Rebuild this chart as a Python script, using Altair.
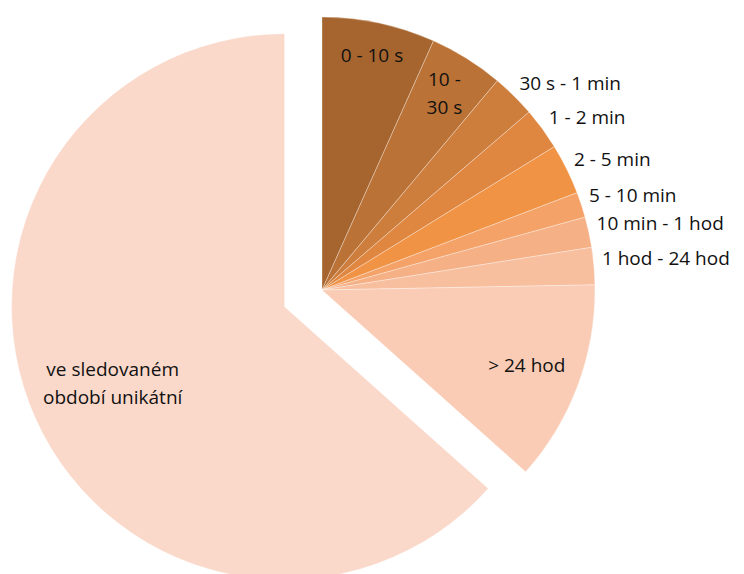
import math

import altair as alt
import pandas as pd

# Share of items by time until repetition (percent of all items)
categories = [
    "0 - 10 s", "10 - 30 s", "30 s - 1 min", "1 - 2 min", "2 - 5 min",
    "5 - 10 min", "10 min - 1 hod", "1 hod - 24 hod", "> 24 hod",
    "ve sledovaném období unikátní",
]
shares = [6.7, 4.4, 2.6, 2.5, 3.0, 1.5, 1.8, 2.2, 11.9, 63.4]
labels = [
    "0 - 10 s", "10 -\n30 s", "30 s - 1 min", "1 - 2 min", "2 - 5 min",
    "5 - 10 min", "10 min - 1 hod", "1 hod - 24 hod", "> 24 hod",
    "ve sledovaném\nobdobí unikátní",
]
palette = [
    "#A6652F", "#BA7236", "#CD7E3C", "#DF8641", "#F09345",
    "#F4A267", "#F6B086", "#F8BF9F", "#FACCB5", "#FAD9CB",
]

# Label groups: inside the slice, outside the rim, and the exploded slice
inside_single = ["0 - 10 s"]
inside_double = ["10 - 30 s"]
inside_far = ["> 24 hod"]
outside = ["30 s - 1 min", "1 - 2 min", "2 - 5 min", "5 - 10 min",
           "10 min - 1 hod", "1 hod - 24 hod"]
big = categories[-1]

total = sum(shares)
ends, acc = [], 0.0
for s in shares:
    acc += s / total
    ends.append(acc)
starts = [0.0] + ends[:-1]
mids = [(a + b) / 2 for a, b in zip(starts, ends)]

df = pd.DataFrame({
    "category": categories,
    "label": labels,
    "share": shares,
    "start": starts,
    "end": ends,
    "mid": mids,
})

W, H = 744, 574
CX, CY, R = 322, 290, 273
EXPLODE = 41
LINE_H = 28

big_mid = mids[categories.index(big)] * 2 * math.pi
EX_X = CX + EXPLODE * math.sin(big_mid)
EX_Y = CY - EXPLODE * math.cos(big_mid)

theta_scale = alt.Scale(domain=[0, 1], range=[0, 2 * math.pi])
color = alt.Color(
    "category:N",
    scale=alt.Scale(domain=categories, range=palette),
    legend=None,
)

base = alt.Chart(df)

slices = base.mark_arc(
    outerRadius=R, stroke="#FFFFFF", strokeWidth=0.7, strokeOpacity=0.45
).encode(
    theta=alt.Theta("start:Q", scale=theta_scale, stack=False),
    theta2="end:Q",
    color=color,
)

rim_slices = slices.transform_filter(alt.datum.category != big).encode(
    x=alt.value(CX), y=alt.value(CY)
)
big_slice = slices.transform_filter(alt.datum.category == big).encode(
    x=alt.value(EX_X), y=alt.value(EX_Y)
)

FONT = dict(font="Open Sans", fontSize=19, color="#111111",
            lineBreak="\n", lineHeight=LINE_H)


def label_layer(names, radius, cx, cy, **mark_kw):
    return base.transform_filter(
        alt.FieldOneOfPredicate(field="category", oneOf=names)
    ).mark_text(**FONT, **mark_kw).encode(
        theta=alt.Theta("mid:Q", scale=theta_scale, stack=False),
        radius=alt.value(radius),
        text="label:N",
        x=alt.value(cx),
        y=alt.value(cy),
    )


# two-line labels are lifted by half a line so the block is centred
single_labels = label_layer(inside_single, 0.875 * R, CX, CY,
                            align="center", baseline="middle")
double_labels = label_layer(inside_double, 0.845 * R, CX, CY,
                            align="center", baseline="middle",
                            dy=-LINE_H / 2)
far_labels = label_layer(inside_far, 0.8 * R, CX, CY,
                         align="center", baseline="middle")
out_labels = label_layer(outside, R + 8, CX, CY,
                         align="left", baseline="alphabetic")
big_label = label_layer([big], 0.69 * R, EX_X, EX_Y,
                        align="center", baseline="middle",
                        dy=-LINE_H / 2)

chart = alt.layer(
    rim_slices, big_slice, single_labels, double_labels, far_labels,
    out_labels, big_label
).properties(
    width=W,
    height=H,
    autosize=alt.AutoSizeParams(type="none"),
    padding=0,
    background="#FFFFFF",
).configure_view(stroke=None)

chart.save("out.html", embed_options={"renderer": "svg", "actions": False})
